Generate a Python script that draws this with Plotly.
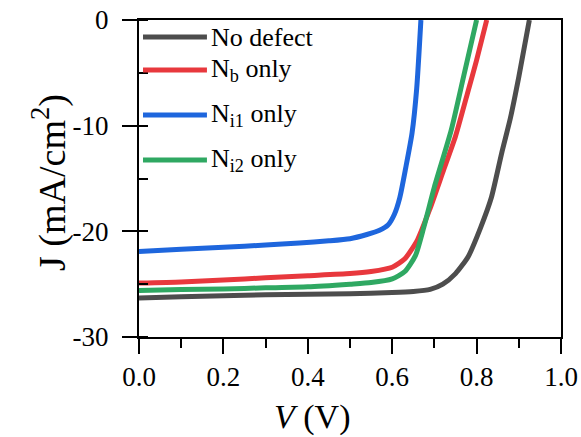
import plotly.graph_objects as go

# ---- data ----
series_names = ["No defect", "N<sub>b</sub> only", "N<sub>i1</sub> only", "N<sub>i2</sub> only"]
series_colors = ["#4d4d4d", "#e8383d", "#1e66dd", "#2fa862"]

v_nodefect = [0, 0.1, 0.2, 0.3, 0.4, 0.5, 0.6, 0.65, 0.69, 0.72, 0.75, 0.78, 0.81, 0.835, 0.86, 0.88, 0.9, 0.925]
j_nodefect = [-26.3, -26.2, -26.1, -26.0, -25.95, -25.9, -25.8, -25.7, -25.5, -25.0, -24.0, -22.4, -19.6, -16.8, -12.5, -9.3, -5.4, 0]

v_nb = [0, 0.1, 0.2, 0.3, 0.4, 0.5, 0.55, 0.6, 0.63, 0.66, 0.69, 0.72, 0.75, 0.78, 0.8, 0.824]
j_nb = [-24.9, -24.8, -24.6, -24.4, -24.2, -24.0, -23.8, -23.4, -22.6, -20.8, -17.8, -14.4, -11.0, -6.7, -3.8, 0]

v_ni1 = [0, 0.1, 0.2, 0.3, 0.38, 0.45, 0.5, 0.54, 0.57, 0.59, 0.605, 0.618, 0.632, 0.647, 0.658, 0.668]
j_ni1 = [-21.9, -21.7, -21.5, -21.3, -21.1, -20.9, -20.7, -20.3, -19.9, -19.4, -18.4, -16.8, -14.0, -10.7, -6.5, 0]

v_ni2 = [0, 0.1, 0.2, 0.3, 0.4, 0.5, 0.55, 0.6, 0.63, 0.655, 0.675, 0.7, 0.74, 0.77, 0.8]
j_ni2 = [-25.6, -25.5, -25.45, -25.35, -25.25, -25.0, -24.85, -24.5, -23.8, -22.3, -19.6, -15.8, -10.4, -5.2, 0]

x_ticks = [0.0, 0.2, 0.4, 0.6, 0.8, 1.0]
x_ticklabels = ["0.0", "0.2", "0.4", "0.6", "0.8", "1.0"]
y_ticks = [0, -10, -20, -30]
y_ticklabels = ["0", "-10", "-20", "-30"]

xs = [v_nodefect, v_nb, v_ni1, v_ni2]
ys = [j_nodefect, j_nb, j_ni1, j_ni2]

FONT = "Liberation Serif, Times New Roman, serif"

fig = go.Figure()
for name, color, x, y in zip(series_names, series_colors, xs, ys):
    fig.add_trace(go.Scatter(x=x, y=y, mode="lines", name=name,
                             line=dict(color=color, width=5, shape="spline", smoothing=0.6),
                             showlegend=False))

# manual legend (paper coordinates)
legend_y = [0.946, 0.842, 0.700, 0.558]
for name, color, ly in zip(series_names, series_colors, legend_y):
    fig.add_shape(type="line", xref="paper", yref="paper", x0=0.0095, x1=0.161, y0=ly, y1=ly,
                  line=dict(color=color, width=5))
    fig.add_annotation(xref="paper", yref="paper", x=0.166, y=ly, text=name, showarrow=False,
                       xanchor="left", yanchor="middle", font=dict(family=FONT, size=26, color="black"))

axis_common = dict(showline=True, linewidth=2, linecolor="black", mirror=True, showgrid=False,
                   zeroline=False, ticks="outside", ticklen=15, tickwidth=2, tickcolor="black",
                   ticklabeloverflow="allow", automargin=False,
                   tickfont=dict(family=FONT, size=27, color="black"))

fig.update_xaxes(range=[0, 1], tickvals=x_ticks, ticktext=x_ticklabels,
                 minor=dict(ticks="outside", dtick=0.1, ticklen=9, tickwidth=2, tickcolor="black"),
                 **axis_common)
fig.update_yaxes(range=[-30, 0], tickvals=y_ticks, ticktext=y_ticklabels,
                 minor=dict(ticks="inside", dtick=5, ticklen=9, tickwidth=2, tickcolor="black"),
                 ticklabelstandoff=8,
                 **axis_common)

# axis titles
fig.add_annotation(xref="paper", yref="paper", x=0.41, y=-0.252, text="<i>V</i> (V)", showarrow=False,
                   xanchor="center", yanchor="middle", font=dict(family=FONT, size=34, color="black"))
fig.add_annotation(xref="paper", yref="paper", x=-0.211, y=0.489, text="J (mA/cm<sup>2</sup>)",
                   showarrow=False, textangle=-90, xanchor="center", yanchor="middle",
                   font=dict(family=FONT, size=38, color="black"))

fig.update_layout(width=581, height=437, margin=dict(l=139, r=20, t=20, b=100),
                  plot_bgcolor="white", paper_bgcolor="white")

# remove the default page margin so the figure fills the window without scrollbars
fig.write_html("out.html", config={"displayModeBar": False},
               post_script="document.body.style.margin='0';document.body.style.overflow='hidden';")
